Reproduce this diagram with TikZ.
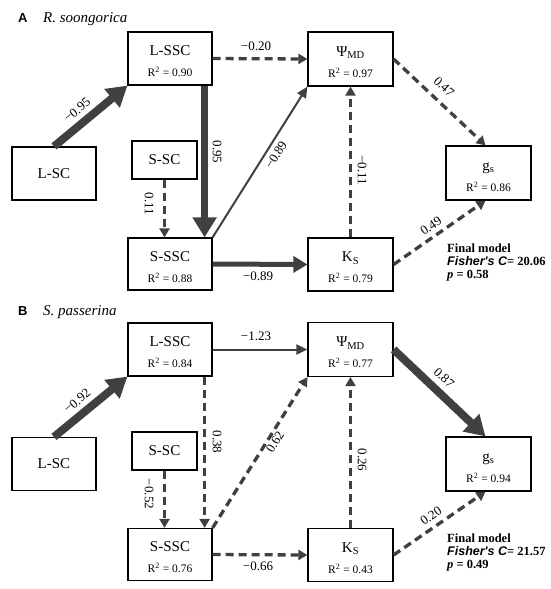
\documentclass[tikz,border=0pt]{standalone}
\usepackage{fontspec}
\setmainfont{Liberation Serif}
\setsansfont{Liberation Sans}
\usetikzlibrary{arrows.meta}
\definecolor{arr}{RGB}{64,64,64}
\newcommand\rsq[1]{{\fontsize{11.5}{13}\selectfont R\textsuperscript{2} = #1}}
\newcommand\hstrut{\rule{0pt}{16pt}}
\begin{document}
\begin{tikzpicture}[x=1pt,y=-1pt,
  box/.style={draw=black, line width=1.2pt, minimum width=84pt, minimum height=53pt, inner sep=0pt, align=center, font=\fontsize{15}{17}\selectfont},
  dsh/.style={draw=arr, line width=3.3pt, dash pattern=on 8pt off 5pt, -{Triangle[length=9pt,width=10pt]}},
  solidarr/.style={draw=arr, line width=2pt, -{Triangle[length=11pt,width=10pt]}},
  midarr/.style={draw=arr, line width=5pt, -{Triangle[length=14pt,width=16pt]}},
  heavy/.style={draw=arr, line width=8pt, -{Triangle[length=20pt,width=23pt]}},
  lbl/.style={font=\fontsize{13}{15}\selectfont, inner sep=0pt},
  fm/.style={anchor=north west, inner sep=0pt, align=left, font=\fontsize{12.5}{13}\selectfont\bfseries},
  ttl/.style={anchor=base west, inner sep=0pt, font=\sffamily\bfseries\fontsize{13}{15}\selectfont},
  sp/.style={anchor=base west, inner sep=0pt, font=\itshape\fontsize{15}{17}\selectfont}
]
\useasboundingbox (0,0) rectangle (550,589);

% ---------- Panel A ----------
\node[ttl] (aT) at (18,23) {A};
\node[sp] (aTs) at (43,23) {R. soongorica};

\node[box] (aLSSC) at (170,58.5) {\hstrut L-SSC\\[4pt]\rsq{0.90}};
\node[box, minimum width=85pt, minimum height=54pt] (aPsi) at (350.5,59) {\hstrut Ψ\textsubscript{MD}\\[4pt]\rsq{0.97}};
\node[box] (aLSC) at (54,173.5) {L-SC};
\node[box, minimum width=65pt, minimum height=38pt] (aSSC) at (164.5,160) {S-SC};
\node[box, minimum height=52pt] (aSSSC) at (170,264) {\hstrut S-SSC\\[4pt]\rsq{0.88}};
\node[box, minimum width=85pt] (aKS) at (350.5,264.5) {\hstrut K\textsubscript{S}\\[4pt]\rsq{0.79}};
\node[box, minimum width=85pt, minimum height=54pt] (agS) at (488.5,173) {\hstrut g\textsubscript{s}\\[4pt]\rsq{0.86}};

\draw[heavy] (aLSC.north) -- (aLSSC.south west);
\draw[dsh] (aLSSC.east) -- (aPsi.west);
\draw[heavy, line width=7pt] ([xshift=-8pt]aLSSC.south east) -- ([xshift=-8pt]aSSSC.north east);
\draw[dsh] (aSSC.south) -- (aSSC.south |- aSSSC.north);
\draw[solidarr] (aSSSC.north east) -- (aPsi.south west);
\draw[midarr] (aSSSC.east) -- (aKS.west);
\draw[dsh] (aKS.north) -- (aPsi.south);
\draw[dsh] (aPsi.east) -- ([xshift=-3pt]agS.north);
\draw[dsh] (aKS.east) -- ([xshift=-3pt]agS.south);

\node[lbl, rotate=40] (aL1) at (77,110) {−0.95};
\node[lbl] (aL2) at (256,46) {−0.20};
\node[lbl, rotate=-90] (aL3) at (217,152) {0.95};
\node[lbl, rotate=-90] (aL4) at (149,204) {0.11};
\node[lbl, rotate=58] (aL5) at (276,155) {−0.89};
\node[lbl] (aL6) at (258,276) {−0.89};
\node[lbl, rotate=-90] (aL7) at (362,170) {−0.11};
\node[lbl, rotate=-43] (aL8) at (444,87) {0.47};
\node[lbl, rotate=35] (aL9) at (431,226) {0.49};

\node[fm] (aFM) at (447,244) {Final model\\{\sffamily\itshape Fisher\textquotesingle s C}= 20.06\\\textit{p} = 0.58};

% ---------- Panel B ----------
\node[ttl] (bT) at (18,315) {B};
\node[sp] (bTs) at (43,315) {S. passerina};

\node[box] (bLSSC) at (170,349.5) {\hstrut L-SSC\\[4pt]\rsq{0.84}};
\node[box, minimum width=85pt, minimum height=54pt] (bPsi) at (350.5,349.5) {\hstrut Ψ\textsubscript{MD}\\[4pt]\rsq{0.77}};
\node[box] (bLSC) at (54,464) {L-SC};
\node[box, minimum width=65pt, minimum height=38pt] (bSSC) at (164.5,451) {S-SC};
\node[box, minimum height=52pt] (bSSSC) at (170,554.5) {\hstrut S-SSC\\[4pt]\rsq{0.76}};
\node[box, minimum width=85pt] (bKS) at (350.5,555) {\hstrut K\textsubscript{S}\\[4pt]\rsq{0.43}};
\node[box, minimum width=85pt, minimum height=54pt] (bgS) at (488.5,464) {\hstrut g\textsubscript{s}\\[4pt]\rsq{0.94}};

\draw[heavy] (bLSC.north) -- (bLSSC.south west);
\draw[solidarr] (bLSSC.east) -- (bPsi.west);
\draw[dsh] ([xshift=-8pt]bLSSC.south east) -- ([xshift=-8pt]bSSSC.north east);
\draw[dsh] (bSSC.south) -- (bSSC.south |- bSSSC.north);
\draw[dsh] (bSSSC.north east) -- (bPsi.south west);
\draw[dsh] (bSSSC.east) -- (bKS.west);
\draw[dsh] (bKS.north) -- (bPsi.south);
\draw[heavy] (bPsi.east) -- ([xshift=-3pt]bgS.north);
\draw[dsh] (bKS.east) -- ([xshift=-3pt]bgS.south);

\node[lbl, rotate=40] (bL1) at (77,401) {−0.92};
\node[lbl] (bL2) at (256,336) {−1.23};
\node[lbl, rotate=-90] (bL3) at (217,442) {0.38};
\node[lbl, rotate=-90] (bL4) at (149,494) {−0.52};
\node[lbl, rotate=58] (bL5) at (275,442) {0.62};
\node[lbl] (bL6) at (258,566) {−0.66};
\node[lbl, rotate=-90] (bL7) at (362,460) {0.26};
\node[lbl, rotate=-43] (bL8) at (444,378) {0.87};
\node[lbl, rotate=35] (bL9) at (431,516) {0.20};

\node[fm] (bFM) at (447,534) {Final model\\{\sffamily\itshape Fisher\textquotesingle s C}= 21.57\\\textit{p} = 0.49};
\end{tikzpicture}
\end{document}
